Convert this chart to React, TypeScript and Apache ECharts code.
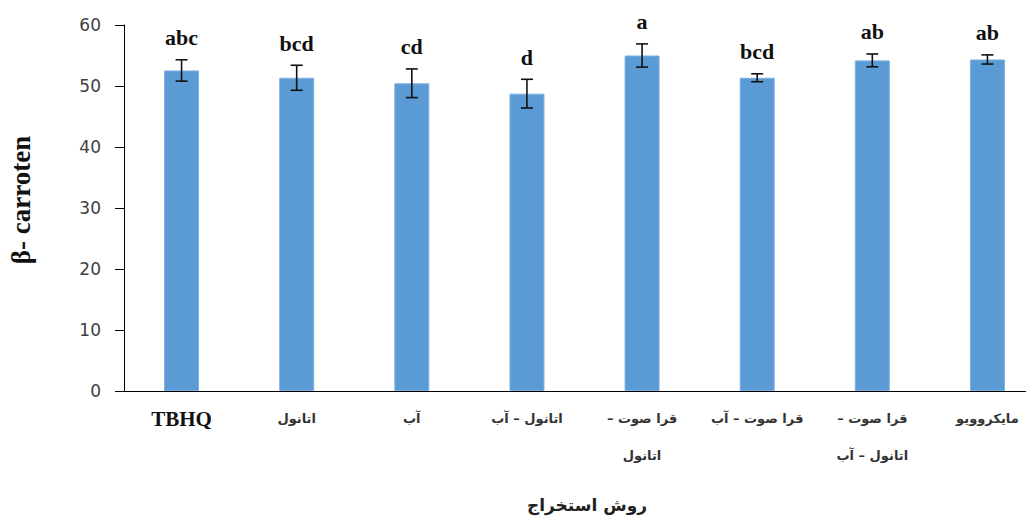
import React, { useEffect, useRef } from "react";
import * as echarts from "echarts";

const categories = [
  "TBHQ",
  "اتانول",
  "آب",
  "اتانول – آب",
  "قرا صوت –\nاتانول",
  "قرا صوت – آب",
  "قرا صوت –\nاتانول – آب",
  "مایکروویو",
];
const means = [52.55, 51.35, 50.45, 48.75, 55.0, 51.35, 54.2, 54.35];
const errors = [1.75, 2.05, 2.35, 2.35, 1.9, 0.65, 1.05, 0.75];
const letters = ["abc", "bcd", "cd", "d", "a", "bcd", "ab", "ab"];
const yTicks = { min: 0, max: 60, interval: 10 };
const yTitle = "β- carroten";
const xTitle = "روش استخراج";

export default function App() {
  const ref = useRef<HTMLDivElement>(null);
  useEffect(() => {
    if (!ref.current) return;
    const chart = echarts.init(ref.current, null, { renderer: "svg" });
    const errData = means.map((m, i) => [i, m - errors[i], m + errors[i]]);
    chart.setOption({
      animation: false,
      grid: { left: 124, top: 25, width: 921, height: 366, containLabel: false },
      xAxis: {
        type: "category",
        data: categories,
        axisLine: { lineStyle: { color: "#000", width: 1 } },
        axisTick: { alignWithLabel: true, length: 5, lineStyle: { color: "#000" } },
        axisLabel: {
          interval: 0,
          margin: 9,
          formatter: (v: string) =>
            v
              .split("\n")
              .map((line) => {
                const t = line.trim().endsWith("–") ? line + "\u200F" : line;
                return v === "TBHQ" ? `{t|${t}}` : `{f|${t}}`;
              })
              .join("\n"),
          rich: {
            t: {
              fontFamily: "Liberation Serif",
              fontWeight: "bold",
              fontSize: 21,
              color: "#111",
              lineHeight: 37,
            },
            f: {
              fontFamily: "DejaVu Sans",
              fontWeight: "bold",
              fontSize: 13,
              color: "#333",
              lineHeight: 37,
            },
          },
        },
      },
      yAxis: {
        type: "value",
        min: yTicks.min,
        max: yTicks.max,
        interval: yTicks.interval,
        splitLine: { show: false },
        axisLine: { show: true, lineStyle: { color: "#000", width: 1 } },
        axisTick: { show: true, length: 9, lineStyle: { color: "#000" } },
        axisLabel: {
          margin: 23,
          fontFamily: "DejaVu Sans",
          fontSize: 17,
          color: "#404040",
        },
      },
      series: [
        {
          type: "bar",
          data: means,
          barWidth: 35,
          itemStyle: { color: "#5B9BD5", borderColor: "#7FB0E0", borderWidth: 1 },
          z: 2,
        },
        {
          type: "custom",
          data: errData,
          z: 5,
          renderItem: (params: any, api: any) => {
            const x = api.value(0);
            const lo = api.coord([x, api.value(1)]);
            const hi = api.coord([x, api.value(2)]);
            const cap = 6;
            const style = { stroke: "#111", lineWidth: 1.6 };
            return {
              type: "group",
              children: [
                { type: "line", shape: { x1: hi[0], y1: hi[1], x2: lo[0], y2: lo[1] }, style },
                { type: "line", shape: { x1: hi[0] - cap, y1: hi[1], x2: hi[0] + cap, y2: hi[1] }, style },
                { type: "line", shape: { x1: lo[0] - cap, y1: lo[1], x2: lo[0] + cap, y2: lo[1] }, style },
                {
                  type: "text",
                  style: {
                    text: letters[params.dataIndex],
                    x: hi[0],
                    y: hi[1] - 22,
                    align: "center",
                    verticalAlign: "middle",
                    fontFamily: "Liberation Serif",
                    fontWeight: "bold",
                    fontSize: 22,
                    fill: "#111",
                  },
                },
              ],
            };
          },
        },
      ],
      graphic: [
        {
          type: "text",
          x: 21,
          y: 200,
          rotation: Math.PI / 2,
          style: {
            text: yTitle,
            align: "center",
            verticalAlign: "middle",
            fontFamily: "Liberation Serif",
            fontWeight: "bold",
            fontSize: 27,
            fill: "#111",
          },
        },
        {
          type: "text",
          x: 587,
          y: 505,
          style: {
            text: xTitle,
            align: "center",
            verticalAlign: "middle",
            fontFamily: "DejaVu Sans",
            fontWeight: "bold",
            fontSize: 17,
            fill: "#222",
          },
        },
      ],
    });
    return () => chart.dispose();
  }, []);
  return (
    <div
      style={{
        position: "absolute",
        left: 0,
        top: 0,
        width: 1026,
        height: 518,
        overflow: "hidden",
      }}
    >
      <div ref={ref} style={{ width: 1070, height: 518 }} />
    </div>
  );
}
